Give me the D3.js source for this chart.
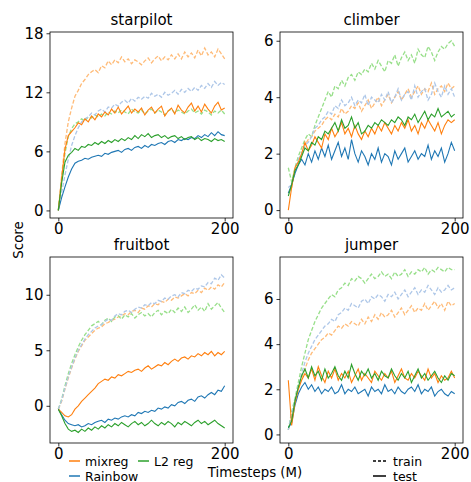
<!DOCTYPE html>
<html>
<head>
<meta charset="utf-8">
<script src="https://cdn.jsdelivr.net/npm/d3@7"></script>
<style>
  body { margin: 0; background: #fff; }
  text { font-family: "DejaVu Sans", sans-serif; fill: #000; }
</style>
</head>
<body>
<div id="chart"></div>
<script>
// timesteps (M), one sample every 4M
var steps = d3.range(0, 201, 4);
var xTicks = [0, 200];
var methods = ["mixreg", "L2 reg", "Rainbow"];

// ---- starpilot
var starpilotMixTrain = [0, 3.5, 6.8, 9.0, 10.4, 11.6, 12.2, 12.9, 13.3, 13.8,
  14.1, 14.3, 14.0, 14.7, 14.5, 15.2, 14.8, 15.3, 15.0, 15.6,
  15.1, 15.4, 14.9, 15.3, 15.1, 14.8, 15.2, 15.5, 15.0, 15.4,
  15.7, 15.2, 15.6, 15.3, 15.8, 15.4, 15.9, 15.4, 16.1, 15.6,
  16.0, 15.5, 16.3, 15.7, 16.5, 15.8, 16.1, 15.6, 16.4, 15.9, 15.4];
var starpilotL2Train = [0, 3.0, 5.8, 7.5, 8.3, 8.8, 9.0, 9.3, 9.1, 9.5,
  9.4, 9.7, 9.5, 9.8, 9.6, 10.0, 9.8, 10.1, 9.9, 10.2,
  10.0, 9.8, 10.3, 10.0, 9.9, 10.2, 9.8, 10.1, 10.3, 9.9,
  10.2, 10.0, 9.7, 10.1, 10.3, 9.9, 10.2, 10.0, 9.8, 10.1,
  10.3, 9.9, 10.1, 9.8, 10.2, 10.0, 9.7, 10.1, 9.9, 10.2, 9.8];
var starpilotRbTrain = [0, 1.8, 3.6, 5.2, 6.6, 7.6, 8.4, 9.0, 9.3, 9.5,
  9.9, 9.7, 10.1, 10.3, 10.0, 10.5, 10.4, 10.8, 10.6, 11.0,
  11.2, 10.9, 11.4, 11.1, 11.5, 11.3, 11.6, 11.4, 11.9, 11.6,
  11.8, 11.5, 12.0, 11.7, 11.9, 12.2, 11.8, 12.3, 12.0, 12.4,
  12.1, 12.5, 12.2, 12.7, 12.4, 12.9, 12.5, 13.1, 12.7, 13.0, 12.8];
var starpilotMixTest = [0, 3.3, 6.2, 7.6, 8.0, 8.4, 8.9, 8.7, 9.3, 9.0,
  9.6, 9.2, 9.8, 9.5, 10.0, 9.7, 10.3, 9.9, 10.5, 9.8,
  10.2, 10.6, 9.9, 10.3, 10.0, 10.4, 9.7, 10.2, 10.5, 9.9,
  10.3, 10.6, 9.6, 10.1, 10.4, 9.8, 10.7, 10.2, 9.9, 10.5,
  10.9, 10.1, 10.6, 10.0, 10.8, 10.3, 9.9, 10.6, 11.0, 10.2, 10.4];
var starpilotL2Test = [0, 2.8, 4.9, 5.6, 5.9, 6.3, 6.1, 6.5, 6.4, 6.7,
  6.6, 6.9, 6.7, 7.0, 6.8, 7.1, 6.9, 7.2, 7.0, 7.3,
  7.1, 7.4, 7.2, 7.6, 7.3, 7.7, 7.5, 7.8, 7.4, 7.6,
  7.7, 7.4, 7.6, 7.3, 7.5, 7.6, 7.3, 7.5, 7.2, 7.4,
  7.5, 7.2, 7.4, 7.1, 7.3, 7.2, 7.0, 7.3, 7.1, 7.2, 7.0];
var starpilotRbTest = [0, 1.3, 2.4, 3.4, 4.2, 4.8, 5.0, 5.1, 5.3, 5.2,
  5.4, 5.5, 5.6, 5.5, 5.8, 5.7, 5.9, 6.0, 6.1, 5.9,
  6.2, 6.3, 6.1, 6.4, 6.5, 6.3, 6.6, 6.4, 6.7, 6.6,
  6.8, 6.9, 6.7, 7.0, 7.1, 6.9, 7.2, 7.1, 7.3, 7.2,
  7.4, 7.3, 7.6, 7.4, 7.7, 7.5, 7.9, 7.6, 8.0, 7.7, 7.6];

// ---- climber
var climberMixTrain = [0.6, 0.8, 1.4, 1.7, 2.0, 2.3, 2.5, 2.6, 2.8, 2.9,
  3.0, 3.2, 3.3, 3.2, 3.4, 3.3, 3.6, 3.4, 3.5, 3.7,
  3.6, 3.8, 3.5, 3.7, 3.9, 3.6, 3.8, 4.0, 3.7, 3.9,
  4.1, 3.8, 4.0, 4.2, 3.9, 4.1, 4.3, 4.0, 4.2, 4.4,
  4.1, 4.3, 4.2, 4.5, 4.1, 4.3, 4.4, 4.2, 4.5, 4.3, 4.4];
var climberL2Train = [1.5, 1.0, 1.5, 1.9, 2.2, 2.5, 2.7, 2.6, 3.0, 3.3,
  3.6, 3.9, 4.2, 4.0, 4.4, 4.3, 4.6, 4.4, 4.7, 4.8,
  4.6, 4.9, 4.8, 5.0, 4.9, 5.2, 5.0, 5.3, 5.1, 4.9,
  5.3, 5.2, 5.5, 5.1, 5.4, 5.6, 5.3, 5.5, 5.2, 5.7,
  5.5, 5.4, 5.8, 5.6, 5.3, 5.6, 5.8, 5.7, 5.9, 6.0, 5.8];
var climberRbTrain = [0.8, 0.9, 1.3, 1.8, 2.0, 2.3, 2.4, 2.6, 2.9, 3.0,
  3.2, 3.3, 3.5, 3.4, 3.7, 3.6, 3.9, 3.7, 3.8, 4.0,
  3.7, 3.9, 3.8, 4.1, 3.7, 4.0, 3.9, 3.8, 4.1, 3.9,
  4.2, 3.8, 4.0, 4.3, 3.9, 4.1, 4.2, 3.9, 4.4, 4.0,
  4.2, 4.3, 3.9, 4.1, 4.5, 4.2, 4.0, 4.4, 4.1, 4.3, 4.0];
var climberMixTest = [0.0, 0.8, 1.5, 1.7, 2.0, 2.4, 2.1, 2.3, 2.6, 2.4,
  2.2, 2.7, 2.5, 2.9, 2.6, 2.8, 3.1, 2.7, 2.9, 2.6,
  3.0, 2.7, 2.5, 2.8, 2.6, 2.9, 2.7, 3.0, 2.8, 3.1,
  2.9, 2.7, 3.0, 2.8, 3.1, 2.9, 3.2, 2.8, 3.0, 2.7,
  3.1, 2.9, 3.2, 3.0, 2.8, 3.1, 2.7, 3.0, 3.2, 3.1, 3.2];
var climberL2Test = [0.5, 0.9, 1.4, 1.6, 1.9, 2.2, 2.1, 2.4, 2.3, 2.6,
  2.5, 2.8, 2.7, 2.9, 3.1, 2.8, 3.2, 2.9, 3.0, 3.3,
  2.9, 3.1, 2.7, 2.8, 3.0, 2.9, 3.1, 3.0, 3.2, 3.1,
  3.0, 3.2, 3.1, 3.3, 3.2, 3.0, 3.3, 3.2, 3.4, 3.1,
  3.3, 3.5, 3.2, 3.4, 3.3, 3.6, 3.3, 3.4, 3.5, 3.3, 3.4];
var climberRbTest = [0.6, 0.9, 1.3, 1.6, 1.8, 1.6, 2.0, 1.7, 2.1, 1.8,
  2.2, 1.9, 2.3, 1.8, 2.1, 2.4, 1.9, 2.2, 1.8, 2.5,
  2.0, 1.7, 2.1, 1.9, 1.6, 2.0, 1.8, 2.2, 1.7, 2.0,
  1.9, 1.6, 2.1, 1.8, 2.0, 2.2, 1.7, 1.9, 2.1, 1.8,
  2.0, 1.9, 2.3, 1.8, 2.1, 1.9, 2.2, 1.7, 2.0, 2.4, 2.1];

// ---- fruitbot
var fruitbotMixTrain = [-0.3, 0.4, 1.5, 2.5, 3.4, 4.2, 4.9, 5.4, 5.9, 6.2,
  6.5, 6.8, 7.0, 7.1, 7.4, 7.5, 7.7, 7.8, 8.0, 8.1,
  8.3, 8.2, 8.5, 8.6, 8.4, 8.8, 8.7, 9.0, 8.9, 9.2,
  9.1, 9.4, 9.3, 9.6, 9.5, 9.8, 9.7, 9.9, 10.1, 9.9,
  10.2, 10.1, 10.4, 10.2, 10.6, 10.4, 10.7, 10.5, 10.9, 10.7, 11.1];
var fruitbotL2Train = [-0.3, 0.6, 1.8, 2.9, 3.8, 4.6, 5.3, 5.9, 6.4, 6.8,
  7.2, 7.4, 7.6, 7.3, 7.7, 7.9, 7.6, 8.0, 8.1, 7.8,
  8.2, 8.0, 8.3, 7.9, 8.2, 8.4, 8.1, 8.3, 8.0, 8.4,
  8.6, 8.2, 8.5, 8.3, 8.7, 8.4, 8.8, 8.5, 8.9, 8.4,
  8.7, 9.1, 8.6, 8.9, 8.5, 9.2, 8.7, 9.0, 9.3, 8.8, 8.4];
var fruitbotRbTrain = [-0.3, 0.5, 1.6, 2.6, 3.5, 4.3, 5.0, 5.5, 6.0, 6.4,
  6.7, 7.0, 7.2, 7.3, 7.6, 7.8, 7.7, 8.1, 8.3, 8.2,
  8.5, 8.6, 8.4, 8.7, 8.9, 8.8, 9.1, 9.0, 9.3, 9.2,
  9.5, 9.4, 9.7, 9.6, 9.9, 10.0, 9.8, 10.2, 10.1, 10.4,
  10.3, 10.6, 10.5, 10.8, 10.7, 11.1, 11.0, 11.5, 11.3, 11.8, 11.5];
var fruitbotMixTest = [-0.3, -0.6, -0.9, -1.0, -0.8, -0.3, 0.0, 0.4, 0.7, 1.0,
  1.3, 1.6, 2.0, 2.2, 2.4, 2.3, 2.6, 2.5, 2.8, 2.7,
  2.9, 3.1, 3.0, 3.2, 3.3, 3.1, 3.4, 3.6, 3.3, 3.5,
  3.7, 3.6, 3.9, 3.7, 4.0, 4.2, 4.0, 4.3, 4.4, 4.2,
  4.5, 4.4, 4.7, 4.5, 4.8, 4.6, 4.9, 4.5, 4.8, 4.6, 4.9];
var fruitbotL2Test = [-0.3, -0.9, -1.6, -2.1, -2.3, -2.2, -2.4, -2.1, -2.3, -2.0,
  -2.2, -1.9, -2.1, -1.8, -2.0, -1.7, -1.9, -1.6, -1.8, -1.5,
  -1.7, -1.9, -1.6, -1.4, -1.7, -1.5, -1.8, -1.6, -1.3, -1.6,
  -1.8, -1.5, -1.7, -1.4, -1.6, -1.9, -1.5, -1.7, -1.4, -1.6,
  -1.8, -1.5, -1.3, -1.6, -1.4, -1.7, -1.5, -1.3, -1.6, -1.8, -2.0];
var fruitbotRbTest = [-0.3, -0.8, -1.3, -1.6, -1.7, -1.8, -1.7, -1.9, -1.8, -1.6,
  -1.7, -1.5, -1.4, -1.3, -1.5, -1.2, -1.3, -1.1, -1.2, -1.0,
  -0.9, -1.0, -0.8, -0.9, -0.6, -0.7, -0.5, -0.6, -0.4, -0.5,
  -0.2, -0.3, -0.1, -0.2, 0.1, 0.0, 0.3, 0.4, 0.2, 0.5,
  0.6, 0.4, 0.8, 0.9, 0.7, 1.0, 1.2, 1.0, 1.4, 1.3, 1.8];

// ---- jumper
var jumperMixTrain = [0.2, 0.8, 1.4, 2.0, 2.5, 2.9, 3.3, 3.6, 3.8, 4.0,
  4.2, 4.3, 4.5, 4.4, 4.6, 4.8, 4.7, 4.9, 4.8, 5.0,
  4.9, 4.8, 5.1, 4.9, 5.2, 5.0, 5.3, 5.1, 5.4, 5.2,
  5.3, 5.5, 5.2, 5.4, 5.6, 5.3, 5.5, 5.7, 5.4, 5.6,
  5.5, 5.8, 5.5, 5.7, 5.9, 5.6, 5.8, 5.5, 5.9, 5.7, 5.8];
var jumperL2Train = [0.2, 1.0, 1.6, 2.3, 3.0, 3.6, 4.2, 4.6, 5.0, 5.3,
  5.6, 5.8, 6.0, 6.2, 6.1, 6.4, 6.5, 6.7, 6.6, 6.9,
  6.8, 7.0, 6.9, 6.7, 6.9, 7.1, 6.9, 7.0, 7.2, 7.0,
  7.1, 6.9, 7.2, 7.0, 7.1, 7.3, 7.0, 7.2, 7.1, 7.3,
  7.2, 7.4, 7.1, 7.3, 7.2, 7.4, 7.3, 7.2, 7.4, 7.3, 7.3];
var jumperRbTrain = [0.2, 0.9, 1.5, 2.1, 2.7, 3.2, 3.6, 3.9, 4.2, 4.4,
  4.6, 4.8, 4.9, 5.1, 5.0, 5.3, 5.4, 5.6, 5.5, 5.8,
  5.7, 5.6, 5.9, 6.0, 5.8, 6.1, 6.0, 6.2, 6.1, 5.9,
  6.2, 6.1, 6.3, 6.0, 6.2, 6.4, 6.1, 6.3, 6.5, 6.2,
  6.4, 6.3, 6.6, 6.4, 6.2, 6.5, 6.3, 6.4, 6.6, 6.4, 6.5];
var jumperMixTest = [2.4, 0.4, 1.4, 2.0, 2.4, 2.7, 2.5, 2.9, 2.4, 3.0,
  2.6, 2.3, 2.8, 2.5, 2.9, 2.4, 2.7, 2.5, 2.8, 2.3,
  2.6, 2.9, 2.4, 2.7, 2.5, 2.3, 2.8, 2.6, 2.4, 2.7,
  2.5, 2.8, 2.3, 2.6, 2.9, 2.5, 2.4, 2.7, 2.5, 2.8,
  2.6, 2.4, 2.9, 2.5, 2.7, 2.3, 2.6, 2.4, 2.5, 2.8, 2.5];
var jumperL2Test = [0.3, 0.6, 1.5, 2.1, 2.6, 2.9, 2.5, 3.0, 2.6, 2.8,
  2.4, 2.9, 2.5, 2.7, 3.0, 2.6, 2.4, 2.8, 2.5, 3.1,
  2.7, 2.4, 2.8, 2.6, 2.9, 2.5, 2.7, 2.4, 2.8, 2.6,
  2.5, 2.9, 2.6, 2.4, 2.7, 2.5, 2.8, 2.3, 2.6, 2.9,
  2.5, 2.7, 2.4, 2.6, 2.8, 2.5, 2.3, 2.6, 2.4, 2.7, 2.6];
var jumperRbTest = [0.3, 0.5, 1.3, 1.8, 2.1, 2.3, 2.0, 2.2, 1.9, 2.1,
  1.8, 2.0, 1.9, 2.1, 1.8, 1.9, 2.2, 1.8, 2.0, 1.9,
  2.1, 1.8, 1.9, 2.0, 1.7, 2.1, 1.9, 2.0, 1.8, 2.2,
  1.9, 2.0, 1.8, 2.1, 1.9, 1.8, 2.0, 2.1, 1.9, 2.2,
  1.8, 2.0, 1.9, 2.1, 1.7, 1.9, 2.0, 1.8, 1.7, 1.9, 1.8];

var starpilotTicks = [0, 6, 12, 18];
var climberTicks = [0, 2, 4, 6];
var fruitbotTicks = [0, 5, 10];
var jumperTicks = [0, 2, 4, 6];

var colors = { "mixreg": "#ff7f0e", "L2 reg": "#2ca02c", "Rainbow": "#1f77b4" };
var lightColors = { "mixreg": "#ffbb78", "L2 reg": "#98df8a", "Rainbow": "#aec7e8" };

var panels = [
  { title: "starpilot", left: 50, top: 32, yDomain: [-0.77, 18.13], ticks: starpilotTicks,
    train: [starpilotMixTrain, starpilotL2Train, starpilotRbTrain],
    test: [starpilotMixTest, starpilotL2Test, starpilotRbTest] },
  { title: "climber", left: 280, top: 32, yDomain: [-0.28, 6.31], ticks: climberTicks,
    train: [climberMixTrain, climberL2Train, climberRbTrain],
    test: [climberMixTest, climberL2Test, climberRbTest] },
  { title: "fruitbot", left: 50, top: 257, yDomain: [-3.35, 13.4], ticks: fruitbotTicks,
    train: [fruitbotMixTrain, fruitbotL2Train, fruitbotRbTrain],
    test: [fruitbotMixTest, fruitbotL2Test, fruitbotRbTest] },
  { title: "jumper", left: 280, top: 257, yDomain: [-0.38, 7.86], ticks: jumperTicks,
    train: [jumperMixTrain, jumperL2Train, jumperRbTrain],
    test: [jumperMixTest, jumperL2Test, jumperRbTest] }
];

var width = 471, height = 482,
    pw = 183, ph = 186;

var svg = d3.select("#chart").append("svg")
    .attr("width", width)
    .attr("height", height);

var x = d3.scaleLinear().domain([-10, 210]).range([0, pw]);

panels.forEach(function (p) {
  var y = d3.scaleLinear().domain(p.yDomain).range([ph, 0]);
  var g = svg.append("g").attr("transform", "translate(" + p.left + "," + p.top + ")");

  var line = d3.line()
      .x(function (d, i) { return x(steps[i]); })
      .y(function (d) { return y(d); });

  // train runs, dashed and light
  p.train.forEach(function (s, k) {
    g.append("path")
        .datum(s)
        .attr("d", line)
        .style("fill", "none")
        .style("stroke", lightColors[methods[k]])
        .style("stroke-width", 1.3)
        .style("stroke-dasharray", "4,2");
  });
  // test runs, solid
  [2, 0, 1].forEach(function (k) {
    g.append("path")
        .datum(p.test[k])
        .attr("d", line)
        .style("fill", "none")
        .style("stroke", colors[methods[k]])
        .style("stroke-width", 1.1);
  });

  var yAxis = g.append("g").call(d3.axisLeft(y).tickValues(p.ticks)
      .tickFormat(d3.format("d")).tickSize(3.5).tickPadding(3));
  var xAxis = g.append("g").attr("transform", "translate(0," + ph + ")")
      .call(d3.axisBottom(x).tickValues(xTicks).tickSize(3.5).tickPadding(2));
  [yAxis, xAxis].forEach(function (a) {
    a.select(".domain").remove();
    a.selectAll("line").style("stroke", "#000").style("stroke-width", 0.8);
    a.selectAll("text").style("font-size", "15px").style("font-family", "DejaVu Sans");
  });

  g.append("rect")
      .attr("width", pw)
      .attr("height", ph)
      .style("fill", "none")
      .style("stroke", "#000")
      .style("stroke-width", 0.8);

  g.append("text")
      .attr("x", pw / 2)
      .attr("y", -7)
      .attr("text-anchor", "middle")
      .style("font-size", "15px")
      .text(p.title);
});

// axis labels
svg.append("text")
    .attr("transform", "translate(23,240) rotate(-90)")
    .attr("text-anchor", "middle")
    .style("font-size", "13.3px")
    .text("Score");
svg.append("text")
    .attr("x", 255)
    .attr("y", 477)
    .attr("text-anchor", "middle")
    .style("font-size", "13.3px")
    .text("Timesteps (M)");

// method legend
var legendPos = [[69, 461], [138, 461], [69, 476]];
methods.forEach(function (m, i) {
  var lg = svg.append("g").attr("transform", "translate(" + legendPos[i][0] + "," + legendPos[i][1] + ")");
  lg.append("line").attr("x1", 0).attr("x2", 11)
      .style("stroke", colors[m]).style("stroke-width", 1.5);
  lg.append("text").attr("x", 16).attr("y", 4.5)
      .style("font-size", "12.5px").text(m);
});

// style legend
var styles = [["train", "3,2"], ["test", null]];
styles.forEach(function (s, i) {
  var lg = svg.append("g").attr("transform", "translate(373," + (461 + i * 15) + ")");
  lg.append("line").attr("x1", 0).attr("x2", 13)
      .style("stroke", "#000").style("stroke-width", 1.5)
      .style("stroke-dasharray", s[1]);
  lg.append("text").attr("x", 20).attr("y", 4.5)
      .style("font-size", "12.5px").text(s[0]);
});
</script>
</body>
</html>
